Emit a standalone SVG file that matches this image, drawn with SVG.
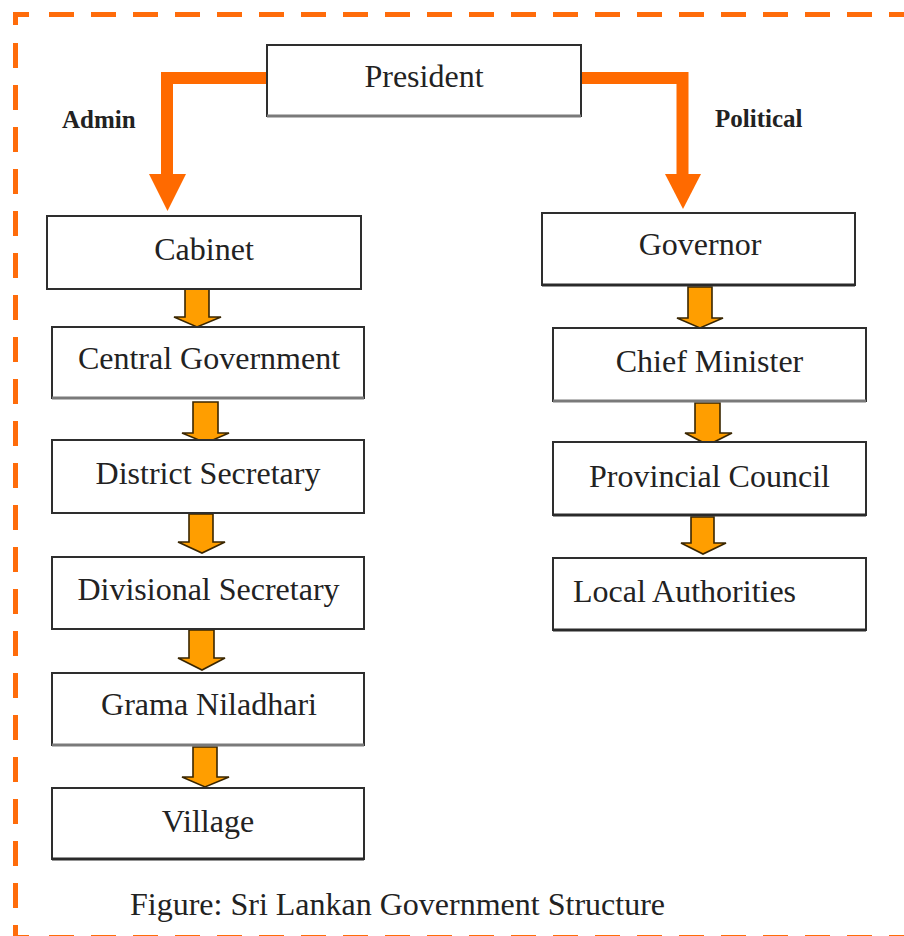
<svg xmlns="http://www.w3.org/2000/svg" width="904" height="936" viewBox="0 0 904 936">
<style>
.box{fill:#fff;stroke:#2e2e2e;stroke-width:2}
.sh{stroke:#7a7a7a;stroke-width:3;fill:none}
.shd{stroke:#2a2a2a;stroke-width:3;fill:none}
.t{font-family:"Liberation Serif","Times New Roman",serif;font-size:32px;fill:#222}
.lbl{font-family:"Liberation Serif","Times New Roman",serif;font-size:25px;font-weight:bold;fill:#222}
.big{fill:#ff6a00;stroke:none}
.bigl{fill:none;stroke:#ff6a00;stroke-width:12}
.sm{fill:#ff9e00;stroke:#3a2600;stroke-width:1.6;stroke-linejoin:miter}
.frame{stroke:#ff6c0a;stroke-width:5;fill:none}
</style>
<rect width="904" height="936" fill="#fff"/>
<g id="frame">
<path class="frame" d="M15.5,25 V14.5 H29"/>
<line class="frame" x1="49" y1="14.5" x2="904" y2="14.5" stroke-dasharray="25 17"/>
<line class="frame" x1="15.5" y1="43" x2="15.5" y2="925" stroke-dasharray="25 17"/>
<path class="frame" d="M15.5,925 V937.5 H29"/>
<line class="frame" x1="49" y1="937.5" x2="904" y2="937.5" stroke-dasharray="25 17"/>
</g>
<g id="connectors">
<path class="bigl" d="M267,78 H167 V176"/>
<polygon class="big" points="149,174 186,174 167.5,211"/>
<path class="bigl" d="M581,78 H682.5 V176"/>
<polygon class="big" points="665,174 701,174 683,209"/>
<polygon class="sm" points="185,288 209,288 209,317 221,317 197,327 174,317 185,317"/>
<polygon class="sm" points="193,402 218,402 218,433 229,433 206,443 182,433 193,433"/>
<polygon class="sm" points="189,514 213,514 213,542 225,542 202,553 178,542 189,542"/>
<polygon class="sm" points="189,630 214,630 214,658 225,658 202,670 178,658 189,658"/>
<polygon class="sm" points="193,747 217,747 217,777 229,777 205,787 182,777 193,777"/>
<polygon class="sm" points="688,287 712,287 712,318 723,318 700,328 677,318 688,318"/>
<polygon class="sm" points="695,403 720,403 720,433 732,433 708,445 685,433 695,433"/>
<polygon class="sm" points="691,517 714,517 714,543 726,543 703,554 681,543 691,543"/>
</g>
<g id="president">
<rect class="box" x="267" y="45" width="314" height="71"/>
<line class="sh" x1="267" y1="116" x2="581" y2="116"/>
<text class="t" x="424" y="87" text-anchor="middle">President</text>
</g>
<g id="admin-label"><text class="lbl" x="62" y="128">Admin</text></g>
<g id="political-label"><text class="lbl" x="715" y="127">Political</text></g>
<g id="cabinet">
<rect class="box" x="47" y="216" width="314" height="73"/>
<text class="t" x="204" y="260" text-anchor="middle">Cabinet</text>
</g>
<g id="central-government">
<rect class="box" x="52" y="327" width="312" height="71"/>
<line class="sh" x1="52" y1="398" x2="364" y2="398"/>
<text class="t" x="209" y="369" text-anchor="middle">Central Government</text>
</g>
<g id="district-secretary">
<rect class="box" x="52" y="440" width="312" height="73"/>
<text class="t" x="208" y="484" text-anchor="middle">District Secretary</text>
</g>
<g id="divisional-secretary">
<rect class="box" x="52" y="557" width="312" height="72"/>
<text class="t" x="208.5" y="600" text-anchor="middle">Divisional Secretary</text>
</g>
<g id="grama-niladhari">
<rect class="box" x="52" y="673" width="312" height="72"/>
<line class="sh" x1="52" y1="745" x2="364" y2="745"/>
<text class="t" x="209" y="715" text-anchor="middle">Grama Niladhari</text>
</g>
<g id="village">
<rect class="box" x="52" y="788" width="312" height="71"/>
<line class="shd" x1="52" y1="859" x2="364" y2="859"/>
<text class="t" x="208" y="832" text-anchor="middle">Village</text>
</g>
<g id="governor">
<rect class="box" x="542" y="213" width="313" height="72"/>
<line class="shd" x1="542" y1="285" x2="855" y2="285"/>
<text class="t" x="700" y="255" text-anchor="middle">Governor</text>
</g>
<g id="chief-minister">
<rect class="box" x="553" y="328" width="313" height="73"/>
<line class="sh" x1="553" y1="401" x2="866" y2="401"/>
<text class="t" x="709.5" y="372" text-anchor="middle">Chief Minister</text>
</g>
<g id="provincial-council">
<rect class="box" x="553" y="442" width="313" height="73"/>
<line class="shd" x1="553" y1="515" x2="866" y2="515"/>
<text class="t" x="709.5" y="487" text-anchor="middle">Provincial Council</text>
</g>
<g id="local-authorities">
<rect class="box" x="553" y="558" width="313" height="72"/>
<line class="shd" x1="553" y1="630" x2="866" y2="630"/>
<text class="t" x="573" y="602">Local Authorities</text>
</g>
<g id="caption">
<text class="t" x="130" y="915">Figure: Sri Lankan Government Structure</text>
</g>
</svg>
